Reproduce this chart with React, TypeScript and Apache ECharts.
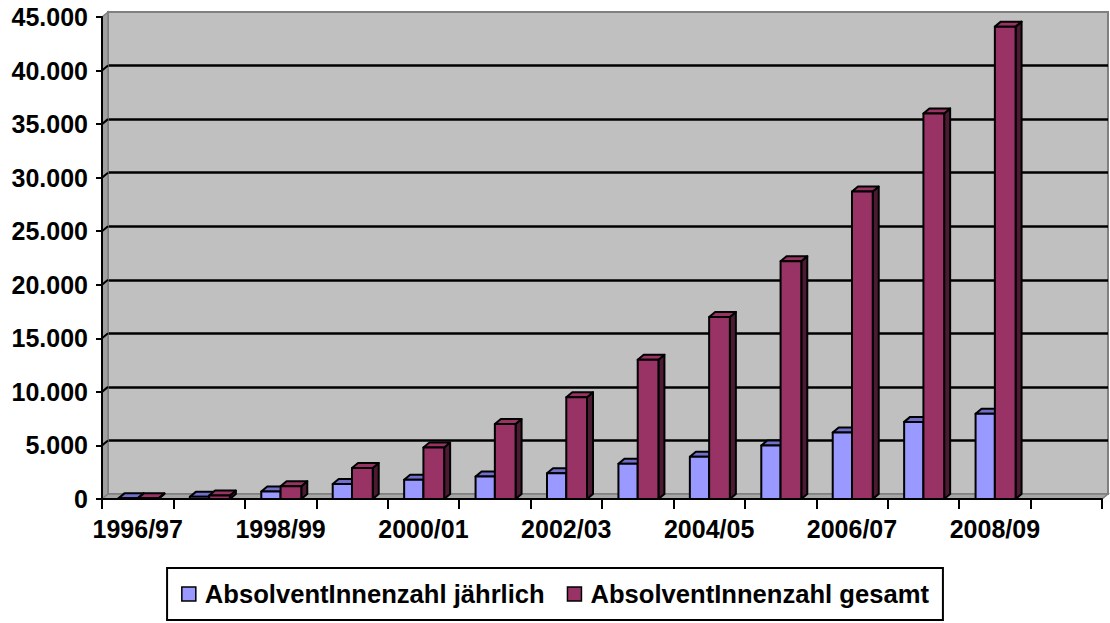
import React, { useEffect, useRef } from "react";
import * as echarts from "echarts";

const categories = [
  "1996/97", "1997/98", "1998/99", "1999/00", "2000/01", "2001/02", "2002/03",
  "2003/04", "2004/05", "2005/06", "2006/07", "2007/08", "2008/09", "2009/10",
];
const annualGraduates = [60, 200, 700, 1400, 1800, 2100, 2400, 3300, 3950, 5000, 6200, 7200, 7950, null];
const totalGraduates = [60, 320, 1200, 2900, 4800, 7000, 9500, 13000, 17000, 22200, 28700, 36000, 44100, null];
const seriesNames = ["AbsolventInnenzahl jährlich", "AbsolventInnenzahl gesamt"];
const yMin = 0;
const yMax = 45000;
const yStep = 5000;

const FONT = '"Liberation Sans", Arial, sans-serif';
const DX = 6;
const DY = 5;

function fmt(v: number): string {
  return String(v).replace(/\B(?=(\d{3})+(?!\d))/g, ".");
}

function toData(arr: (number | null)[]) {
  const out: number[][] = [];
  arr.forEach((v, i) => {
    if (v !== null) out.push([i, v]);
  });
  return out;
}

function bar3d(offsetFrac: number, widthFrac: number, front: string, top: string, side: string) {
  return (params: any, api: any) => {
    const i = api.value(0);
    const v = api.value(1);
    const band = api.size([1, 0])[0];
    const c = api.coord([i, v]);
    const b = api.coord([i, 0]);
    const x0 = c[0] + offsetFrac * band;
    const w = widthFrac * band;
    const yT = c[1];
    const yB = b[1];
    const st = { stroke: "#000", lineWidth: 2, lineJoin: "round" };
    return {
      type: "group",
      children: [
        {
          type: "polygon",
          shape: { points: [[x0 + w, yT], [x0 + w + DX, yT - DY], [x0 + w + DX, yB - DY], [x0 + w, yB]] },
          style: { fill: side, ...st },
        },
        {
          type: "polygon",
          shape: { points: [[x0, yT], [x0 + w, yT], [x0 + w + DX, yT - DY], [x0 + DX, yT - DY]] },
          style: { fill: top, ...st },
        },
        {
          type: "rect",
          shape: { x: x0, y: yT, width: w, height: yB - yT },
          style: { fill: front, ...st },
        },
      ],
    };
  };
}

function frameRender(params: any, api: any) {
  const cs = params.coordSys;
  const x0 = cs.x;
  const x1 = cs.x + cs.width;
  const yTop = cs.y;
  const yBot = cs.y + cs.height;
  const children: any[] = [
    {
      type: "polygon",
      shape: { points: [[x0, yTop], [x0 + DX, yTop - DY], [x0 + DX, yBot - DY], [x0, yBot]] },
      style: { fill: "#A0A0A0", stroke: "#808080", lineWidth: 1.5 },
    },
    {
      type: "polygon",
      shape: { points: [[x0, yBot], [x0 + DX, yBot - DY], [x1 + DX, yBot - DY], [x1, yBot]] },
      style: { fill: "#A6A6A6", stroke: "#808080", lineWidth: 1.5 },
    },
  ];
  for (let v = yMin + yStep; v < yMax; v += yStep) {
    const y = api.coord([0, v])[1];
    children.push({
      type: "line",
      shape: { x1: x0, y1: y, x2: x0 + DX, y2: y - DY },
      style: { stroke: "#000", lineWidth: 2 },
    });
  }
  return { type: "group", children };
}

export default function App() {
  const ref = useRef<HTMLDivElement>(null);
  useEffect(() => {
    if (!ref.current) return;
    const chart = echarts.init(ref.current, null, { renderer: "svg" });
    const labelStyle = { fontFamily: FONT, fontSize: 25, fontWeight: "bold", color: "#000" };
    chart.setOption({
      animation: false,
      backgroundColor: "#fff",
      grid: [
        { left: 102, top: 17, width: 1000, height: 482, show: false },
        {
          left: 108, top: 12, width: 1000, height: 482, show: true,
          backgroundColor: "#C0C0C0", borderColor: "#808080", borderWidth: 2,
        },
      ],
      xAxis: [
        {
          type: "category", gridIndex: 0, data: categories, boundaryGap: true, z: 5,
          axisLine: { show: true, lineStyle: { color: "#000", width: 2 } },
          axisTick: { show: true, interval: 0, alignWithLabel: false, length: 10, lineStyle: { color: "#000", width: 2 } },
          axisLabel: { ...labelStyle, interval: 1, margin: 17 },
          splitLine: { show: false },
        },
        { type: "value", gridIndex: 1, min: 0, max: 1, show: false },
      ],
      yAxis: [
        {
          type: "value", gridIndex: 0, min: yMin, max: yMax, interval: yStep, z: 5,
          axisLine: { show: true, lineStyle: { color: "#000", width: 2 } },
          axisTick: { show: true, length: 6, lineStyle: { color: "#000", width: 2 } },
          axisLabel: { ...labelStyle, margin: 14, formatter: (v: number) => fmt(v) },
          splitLine: { show: false },
        },
        {
          type: "value", gridIndex: 1, min: yMin, max: yMax, interval: yStep,
          axisLine: { show: false }, axisTick: { show: false }, axisLabel: { show: false },
          splitLine: { show: true, showMinLine: false, showMaxLine: false, lineStyle: { color: "#000", width: 2.5 } },
        },
      ],
      legend: {
        data: seriesNames,
        left: "center",
        top: 568,
        icon: "rect",
        itemWidth: 14,
        itemHeight: 14,
        itemGap: 22,
        padding: [13, 14],
        borderColor: "#000",
        borderWidth: 2,
        backgroundColor: "#fff",
        itemStyle: { borderColor: "#000", borderWidth: 1.5 },
        textStyle: { ...labelStyle, fontSize: 25.6, padding: [0, 0, 0, 4] },
      },
      series: [
        {
          type: "custom",
          name: "frame",
          xAxisIndex: 0, yAxisIndex: 0,
          z: 1,
          silent: true,
          data: [[0, 0]],
          renderItem: frameRender,
        },
        {
          type: "custom",
          name: seriesNames[0],
          xAxisIndex: 0, yAxisIndex: 0,
          z: 3,
          itemStyle: { color: "#9999FF" },
          encode: { x: 0, y: 1 },
          data: toData(annualGraduates),
          renderItem: bar3d(-0.27, 0.27, "#9999FF", "#7070CC", "#4D4D80"),
        },
        {
          type: "custom",
          name: seriesNames[1],
          xAxisIndex: 0, yAxisIndex: 0,
          z: 4,
          itemStyle: { color: "#993366" },
          encode: { x: 0, y: 1 },
          data: toData(totalGraduates),
          renderItem: bar3d(0, 0.29, "#993366", "#993366", "#4D1A33"),
        },
      ],
    });
    return () => chart.dispose();
  }, []);
  return <div ref={ref} style={{ width: 1110, height: 623, position: "absolute", left: 0, top: 0 }} />;
}
